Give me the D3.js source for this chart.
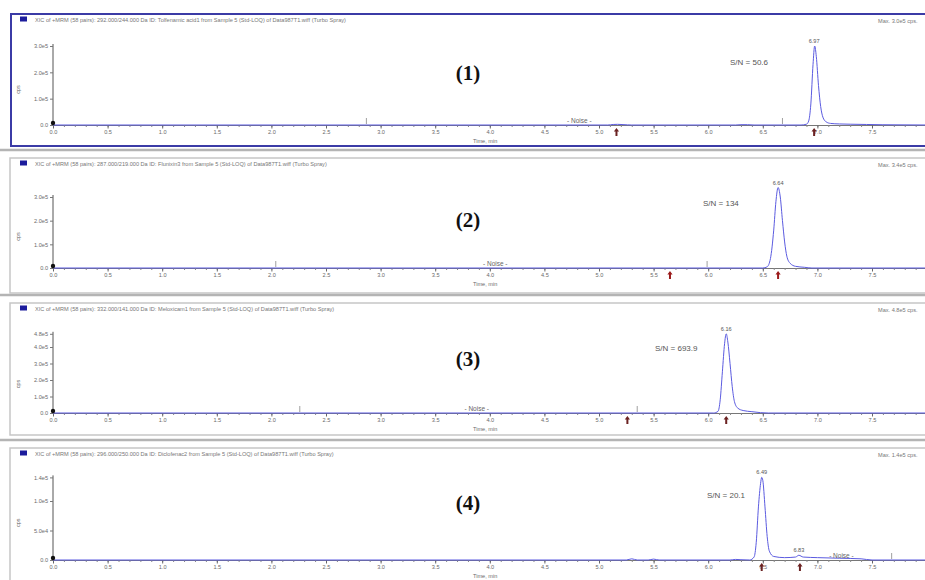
<!DOCTYPE html>
<html><head><meta charset="utf-8">
<script src="https://cdn.jsdelivr.net/npm/d3@7"></script>
<style>body{margin:0;background:#fff}svg{display:block}</style>
</head><body>
<svg id="c" width="925" height="580"></svg>
<script>
// ---------- DATA ----------
const xTicks = [0,0.5,1.0,1.5,2.0,2.5,3.0,3.5,4.0,4.5,5.0,5.5,6.0,6.5,7.0,7.5];
const panelIds = ["(1)","(2)","(3)","(4)"];
const panelTitles = [
 "XIC of +MRM (58 pairs): 292.000/244.000 Da ID: Tolfenamic acid1 from Sample 5 (Std-LOQ) of Data987T1.wiff (Turbo Spray)",
 "XIC of +MRM (58 pairs): 287.000/219.000 Da ID: Flunixin3 from Sample 5 (Std-LOQ) of Data987T1.wiff (Turbo Spray)",
 "XIC of +MRM (58 pairs): 332.000/141.000 Da ID: Meloxicam1 from Sample 5 (Std-LOQ) of Data987T1.wiff (Turbo Spray)",
 "XIC of +MRM (58 pairs): 296.000/250.000 Da ID: Diclofenac2 from Sample 5 (Std-LOQ) of Data987T1.wiff (Turbo Spray)"
];
const panelMax = ["Max. 3.0e5 cps.","Max. 3.4e5 cps.","Max. 4.8e5 cps.","Max. 1.4e5 cps."];
const snLabels = ["S/N = 50.6","S/N = 134","S/N = 693.9","S/N = 20.1"];
const yTicks1 = [0,1e5,2e5,3e5];
const yTicks2 = [0,1e5,2e5,3e5];
const yTicks3 = [0,1e5,2e5,3e5,4e5,4.8e5];
const yTicks4 = [0,5e4,1e5,1.4e5];
const yTickLabels1 = ["0.0","1.0e5","2.0e5","3.0e5"];
const yTickLabels2 = ["0.0","1.0e5","2.0e5","3.0e5"];
const yTickLabels3 = ["0.0","1.0e5","2.0e5","3.0e5","4.0e5","4.8e5"];
const yTickLabels4 = ["0.0","5.0e4","1.0e5","1.4e5"];

// traces: time (min), intensity (cps)
const t1 = [0,5.08,5.13,5.17,5.22,5.3,6.25,6.3,6.36,6.42,6.85,6.9,6.92,6.94,6.96,6.975,6.99,7.01,7.03,7.05,7.08,7.12,7.2,7.3,7.45,7.6,8.0];
const v1 = [0,0,2000,2500,1500,0,0,1200,1200,0,0,3000,15000,80000,230000,300000,260000,150000,70000,30000,12000,6000,4000,3000,2000,1000,0];
const t2 = [0,6.50,6.54,6.57,6.60,6.62,6.64,6.66,6.68,6.70,6.72,6.75,6.80,6.88,6.95,8.0];
const v2 = [0,0,5000,40000,160000,280000,340000,300000,200000,110000,50000,20000,7000,3000,0,0];
const t3 = [0,6.05,6.09,6.11,6.13,6.15,6.165,6.18,6.20,6.22,6.24,6.27,6.32,6.40,6.48,6.55,8.0];
const v3 = [0,0,10000,80000,250000,420000,480000,430000,300000,160000,70000,30000,15000,8000,2000,0,0];
const t4 = [0,5.25,5.3,5.35,5.45,5.5,5.55,6.2,6.25,6.3,6.38,6.42,6.44,6.46,6.48,6.49,6.50,6.52,6.54,6.56,6.60,6.70,6.80,6.83,6.87,7.0,7.2,7.4,7.5,8.0];
const v4 = [0,0,2000,0,0,1500,0,0,1000,500,0,5000,30000,90000,130000,140000,135000,90000,40000,15000,6000,4000,5000,8000,5000,4000,3000,2000,0,0];

// peak labels [time, value, label]
const peaks1 = [[6.97,300000,"6.97"]];
const peaks2 = [[6.64,340000,"6.64"]];
const peaks3 = [[6.165,480000,"6.16"]];
const peaks4 = [[6.49,140000,"6.49"],[6.83,8000,"6.83"]];
// arrow marker times
const arrows1 = [5.16,6.97];
const arrows2 = [5.65,6.64];
const arrows3 = [5.26,6.165];
const arrows4 = [6.49,6.84];
// small vertical markers (times)
const marks1 = [2.87,6.68];
const marks2 = [2.04,5.99];
const marks3 = [2.26,5.35];
const marks4 = [7.68];
// noise label centre times
const noiseAt = [4.82,4.05,3.88,7.22];

// ---------- LAYOUT ----------
const svg = d3.select("#c");
const layout = [
 {frameY:14, frameH:132, base:125, topPx:46, topVal:3e5, blue:true},
 {frameY:158, frameH:135, base:268, topPx:197, topVal:3e5},
 {frameY:303, frameH:132, base:413, topPx:347, topVal:4e5},
 {frameY:448, frameH:140, base:560, topPx:477.4, topVal:1.4e5}
];
const traces = [[t1,v1],[t2,v2],[t3,v3],[t4,v4]];
const yT = [yTicks1,yTicks2,yTicks3,yTicks4];
const yL = [yTickLabels1,yTickLabels2,yTickLabels3,yTickLabels4];
const pk = [peaks1,peaks2,peaks3,peaks4];
const ar = [arrows1,arrows2,arrows3,arrows4];
const mk = [marks1,marks2,marks3,marks4];
const idBase = [80,227,366,510];
const snPos = [[730,65],[703,206],[655,351],[707,498]];

const x = d3.scaleLinear().domain([0,8]).range([53,53+8*109.2]);
const font = "Liberation Sans, Arial, sans-serif";
const grey = "#6a6a6a";

svg.append("rect").attr("width",925).attr("height",580).attr("fill","#fff");
// separators
[150,295,440].forEach(y=>{
  svg.append("line").attr("x1",0).attr("x2",925).attr("y1",y).attr("y2",y).attr("stroke","#b4b4b4").attr("stroke-width",2.5);
});

layout.forEach((L,i)=>{
  const g = svg.append("g");
  g.append("rect").attr("x",L.blue?11:10).attr("y",L.frameY).attr("width",940).attr("height",L.frameH)
    .attr("fill","#fff").attr("stroke",L.blue?"#3b3ba6":"#c6c6c6").attr("stroke-width",L.blue?2:1.5);
  const y = d3.scaleLinear().domain([0,L.topVal]).range([L.base,L.topPx]);
  // title
  g.append("rect").attr("x",20).attr("y",L.frameY+2.5).attr("width",7).attr("height",5).attr("fill","#1c1c9c");
  g.append("text").attr("x",35).attr("y",L.frameY+7.5).attr("font-family",font).attr("font-size",5.6)
    .attr("fill","#777").text(panelTitles[i]);
  g.append("text").attr("x",878).attr("y",L.frameY+9).attr("font-family",font).attr("font-size",5.6)
    .attr("fill","#777").text(panelMax[i]);
  // y axis
  const ya = d3.axisLeft(y).tickValues(yT[i]).tickFormat((d,j)=>yL[i][j]).tickSize(3).tickPadding(2);
  const yg = g.append("g").attr("transform","translate(53,0)").call(ya);
  yg.select(".domain").attr("stroke","#555").attr("d",`M-0,${L.base}V${y(yT[i][yT[i].length-1])-2}`);
  yg.selectAll(".tick line").attr("stroke","#777");
  yg.selectAll("text").attr("font-family",font).attr("font-size",5.6).attr("fill",grey);
  g.append("text").attr("transform",`translate(20,${(L.base+L.topPx)/2+4}) rotate(-90)`).attr("text-anchor","middle")
    .attr("font-family",font).attr("font-size",5.6).attr("fill",grey).text("cps");
  // x axis minor
  const xm = d3.axisBottom(x).ticks(80).tickSize(2).tickFormat("");
  const xmg = g.append("g").attr("transform",`translate(0,${L.base})`).call(xm);
  xmg.select(".domain").attr("stroke","#777");
  xmg.selectAll(".tick line").attr("stroke","#888");
  const xa = d3.axisBottom(x).tickValues(xTicks).tickFormat(d3.format(".1f")).tickSize(3.5).tickPadding(2);
  const xg = g.append("g").attr("transform",`translate(0,${L.base})`).call(xa);
  xg.select(".domain").remove();
  xg.selectAll(".tick line").attr("stroke","#666");
  xg.selectAll("text").attr("font-family",font).attr("font-size",5.6).attr("fill",grey);
  g.append("text").attr("x",473).attr("y",L.base+18).attr("font-family",font).attr("font-size",5.6)
    .attr("fill",grey).text("Time, min");
  // small vertical markers
  mk[i].forEach(t=>{
    g.append("line").attr("x1",x(t)).attr("x2",x(t)).attr("y1",L.base-1).attr("y2",L.base-7)
      .attr("stroke","#888").attr("stroke-width",0.8);
  });
  // trace
  const [tt,vv] = traces[i];
  const pts = tt.map((t,j)=>[t,vv[j]]);
  g.append("path").datum(pts).attr("fill","none").attr("stroke","#5b5be0").attr("stroke-width",1)
    .attr("d",d3.line().x(d=>x(d[0])).y(d=>y(d[1])).curve(d3.curveMonotoneX));
  // origin marker
  g.append("circle").attr("cx",53).attr("cy",L.base-2).attr("r",2.2).attr("fill","#111");
  // peak labels
  pk[i].forEach(p=>{
    g.append("text").attr("x",x(p[0])).attr("y",y(p[1])-3).attr("text-anchor","middle")
      .attr("font-family",font).attr("font-size",5.6).attr("fill","#555").text(p[2]);
  });
  // arrows
  ar[i].forEach(t=>{
    const cx = x(t), b = L.base+3;
    g.append("path").attr("d",`M${cx},${b} L${cx-2.6},${b+3.5} L${cx-1},${b+3.5} L${cx-1},${b+8} L${cx+1},${b+8} L${cx+1},${b+3.5} L${cx+2.6},${b+3.5} Z`)
      .attr("fill", i===1?"#9b1b1b":"#6b2222");
  });
  // noise label
  g.append("text").attr("x",x(noiseAt[i])).attr("y",L.base-2).attr("text-anchor","middle")
    .attr("font-family",font).attr("font-size",6.5).attr("fill","#666").text("- Noise -");
  // S/N
  g.append("text").attr("x",snPos[i][0]).attr("y",snPos[i][1]).attr("font-family",font).attr("font-size",8)
    .attr("fill","#555").text(snLabels[i]);
  // panel id
  g.append("text").attr("x",468).attr("y",idBase[i]).attr("text-anchor","middle")
    .attr("font-family","Liberation Serif, Times New Roman, serif").attr("font-weight","bold")
    .attr("font-size",21).attr("fill","#111").text(panelIds[i]);
});
</script>
</body></html>
